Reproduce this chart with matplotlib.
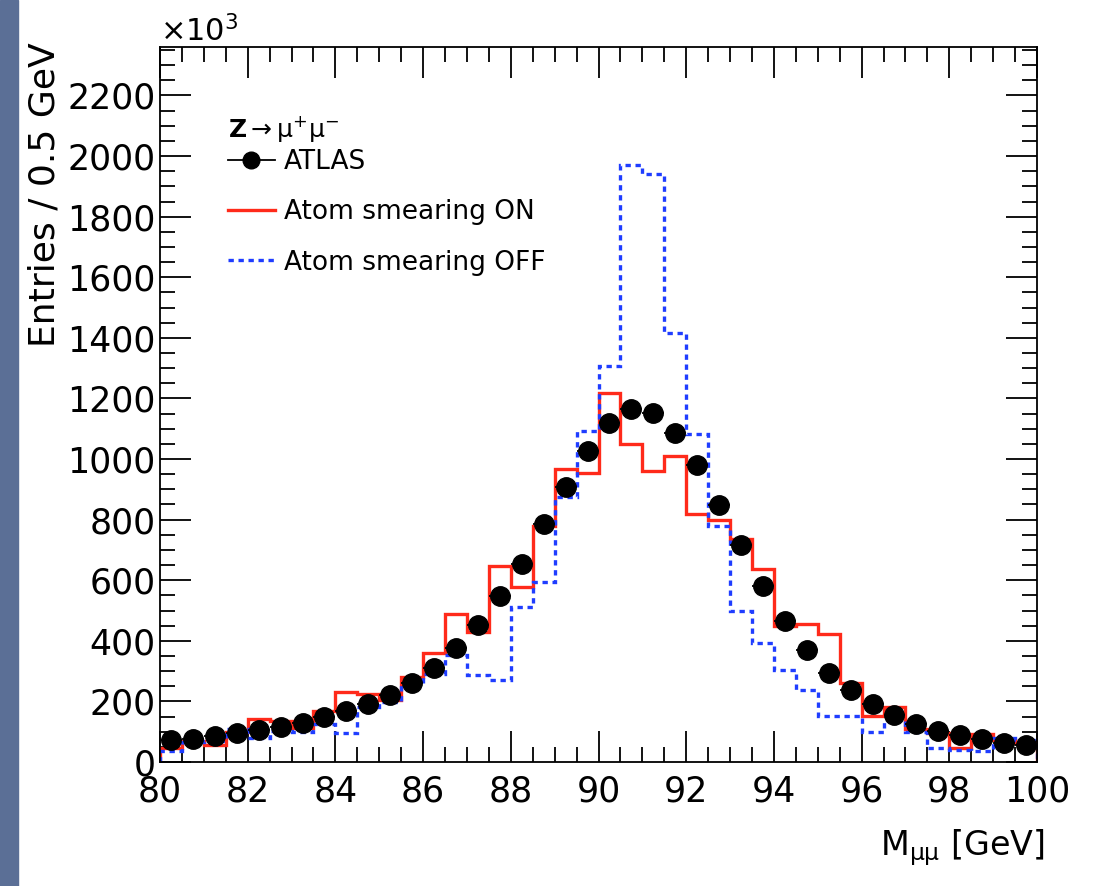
import matplotlib
matplotlib.use("Agg")
import matplotlib.pyplot as plt
import numpy as np
from matplotlib.lines import Line2D
from matplotlib.patches import Rectangle
from matplotlib.ticker import MultipleLocator

# M_mumu binning: 40 bins of 0.5 GeV from 80 to 100
m_lo, m_hi, n_bins = 80.0, 100.0, 40

# entries / 0.5 GeV, in units of 10^3
atlas = [72, 76, 87, 97, 104, 116, 130, 147, 168, 192,
         222, 260, 309, 375, 451, 547, 655, 785, 909, 1025,
         1118, 1165, 1152, 1085, 979, 849, 715, 580, 465, 371,
         294, 237, 190, 155, 127, 103, 89, 75, 64, 56]
smear_on = [46, 68, 55, 100, 141, 134, 112, 167, 231, 224,
            205, 281, 361, 490, 429, 647, 579, 779, 968, 955,
            1218, 1050, 960, 1009, 819, 800, 737, 638, 450, 457,
            424, 261, 153, 182, 108, 95, 45, 92, 72, 62]
smear_off = [37, 66, 70, 108, 80, 103, 98, 125, 97, 182,
             199, 254, 292, 353, 287, 270, 512, 594, 874, 1094,
             1308, 1970, 1940, 1415, 1083, 778, 500, 392, 303, 237,
             152, 152, 100, 138, 100, 45, 40, 37, 78, 72]

edges = np.linspace(m_lo, m_hi, n_bins + 1)
centers = 0.5 * (edges[:-1] + edges[1:])
half_w = 0.5 * (edges[1] - edges[0])

red = '#ff2a1a'
blue = '#1f3dff'

fig = plt.figure(figsize=(10.94, 8.86), dpi=100)
# slide-like strip on the left edge
fig.patches.append(Rectangle((0, 0), 18 / 1094, 1, transform=fig.transFigure,
                             color='#5b6f96', zorder=0))
ax = fig.add_axes([160 / 1094, 1 - 762 / 886, 877 / 1094, 715 / 886])

ax.stairs(smear_on, edges, color=red, lw=2.4, zorder=2)
ax.stairs(smear_off, edges, color=blue, lw=2.4, linestyle=(0, (1.6, 1.4)), zorder=2)
ax.errorbar(centers, atlas, xerr=half_w, fmt='o', color='black', ms=14,
            elinewidth=1.3, capsize=0, zorder=3)

ax.set_xlim(m_lo, m_hi)
ax.set_ylim(0, 2360)
ax.xaxis.set_major_locator(MultipleLocator(2))
ax.xaxis.set_minor_locator(MultipleLocator(0.5))
ax.yaxis.set_major_locator(MultipleLocator(200))
ax.yaxis.set_minor_locator(MultipleLocator(50))
ax.tick_params(which='both', direction='in', top=True, right=True, width=1.3)
ax.tick_params(which='major', length=22, labelsize=25)
ax.tick_params(axis='y', pad=3)
ax.tick_params(axis='x', pad=9)
ax.tick_params(which='minor', length=11)
for s in ax.spines.values():
    s.set_linewidth(1.3)

ax.text(0.0, 1.0, r'$\times$10$^{3}$', transform=ax.transAxes, fontsize=22,
        ha='left', va='bottom')
fig.text(45 / 1094, 1 - 42 / 886, 'Entries / 0.5 GeV', rotation=90,
         ha='center', va='top', fontsize=26)
fig.text(1045 / 1094, 1 - 848 / 886, r'M$_{\mathrm{μμ}}$ [GeV]', ha='right',
         va='center', fontsize=24)

ax.text(68 / 877, 1 - 82 / 715, r'$\mathbf{Z}\rightarrow\mathrm{μ}^{+}\mathrm{μ}^{-}$',
        transform=ax.transAxes, fontsize=18, ha='left', va='center')
handles = [
    Line2D([], [], color='black', marker='o', ms=12, lw=1.3),
    Line2D([], [], color=red, lw=2.4),
    Line2D([], [], color=blue, lw=2.4, linestyle=(0, (1.6, 1.4))),
]
labels = ['ATLAS', 'Atom smearing ON', 'Atom smearing OFF']
ax.legend(handles, labels, loc='upper left', bbox_to_anchor=(0.065, 0.872),
          frameon=False, fontsize=19, handlelength=1.8, handletextpad=0.35,
          labelspacing=0.92, borderaxespad=0)

fig.savefig('out.png', dpi=100)
